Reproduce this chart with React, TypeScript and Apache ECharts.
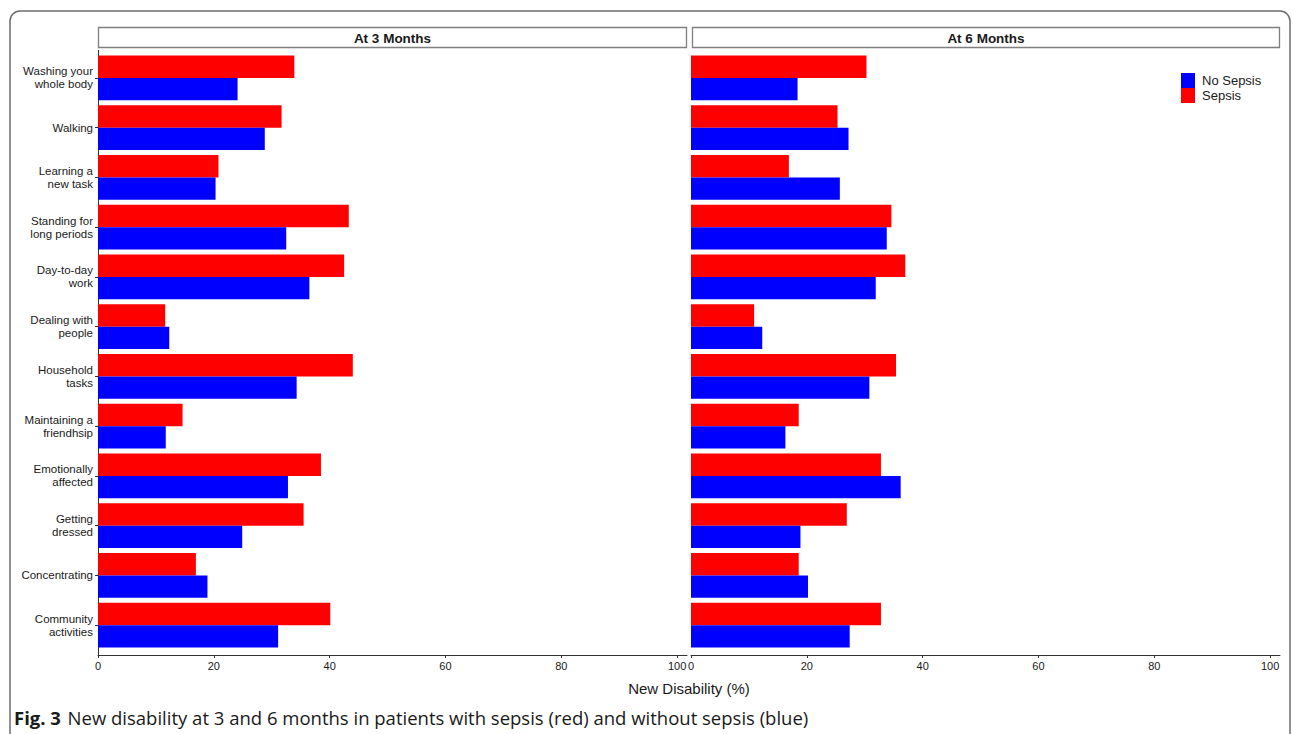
import React, { useEffect, useRef } from "react";
import * as echarts from "echarts";

const categories = [
  "Washing your\nwhole body",
  "Walking",
  "Learning a\nnew task",
  "Standing for\nlong periods",
  "Day-to-day\nwork",
  "Dealing with\npeople",
  "Household\ntasks",
  "Maintaining a\nfriendhsip",
  "Emotionally\naffected",
  "Getting\ndressed",
  "Concentrating",
  "Community\nactivities",
];

const sepsis3 = [33.9, 31.7, 20.8, 43.3, 42.5, 11.6, 44.0, 14.6, 38.5, 35.5, 16.9, 40.1];
const noSepsis3 = [24.1, 28.8, 20.3, 32.5, 36.5, 12.3, 34.3, 11.7, 32.8, 24.9, 18.9, 31.1];
const sepsis6 = [30.3, 25.3, 16.9, 34.6, 37.0, 10.9, 35.4, 18.6, 32.8, 26.9, 18.6, 32.8];
const noSepsis6 = [18.4, 27.2, 25.7, 33.8, 31.9, 12.3, 30.8, 16.3, 36.2, 18.9, 20.2, 27.4];

const xTicks = [0, 20, 40, 60, 80, 100];
const panelTitles = ["At 3 Months", "At 6 Months"];
const xAxisTitle = "New Disability (%)";
const captionBold = "Fig. 3";
const captionText = "New disability at 3 and 6 months in patients with sepsis (red) and without sepsis (blue)";

const RED = "#ff0000";
const BLUE = "#0000ff";
const FONT = "Liberation Sans, Arial, sans-serif";

export default function App() {
  const ref = useRef<HTMLDivElement>(null);

  useEffect(() => {
    if (!ref.current) return;
    const chart = echarts.init(ref.current, undefined, { renderer: "svg" });

    const grids = [
      { left: 98, right: 1293 - 687, top: 53, bottom: 84 },
      { left: 691, right: 1293 - 1280, top: 53, bottom: 84 },
    ];

    const xAxis = [0, 1].map((i) => ({
      type: "value",
      gridIndex: i,
      min: 0,
      max: 101.7,
      offset: 5,
      splitLine: { show: false },
      axisLine: { show: true, lineStyle: { color: "#333333", width: 1 } },
      axisTick: {
        show: true,
        length: 3,
        lineStyle: { color: "#333333" },
        customValues: xTicks,
      },
      axisLabel: {
        show: true,
        fontSize: 11,
        color: "#1a1a1a",
        margin: 5,
        fontFamily: FONT,
        customValues: xTicks,
        formatter: (v: number) => (xTicks.includes(v) ? String(v) : ""),
      },
    }));

    const yAxis = [0, 1].map((i) => ({
      type: "category",
      gridIndex: i,
      inverse: true,
      data: categories,
      axisLine: { show: false },
      axisTick: {
        show: i === 0,
        alignWithLabel: true,
        length: 3,
        lineStyle: { color: "#333333" },
      },
      axisLabel: {
        show: i === 0,
        fontSize: 11.5,
        lineHeight: 13,
        color: "#1a1a1a",
        margin: 5,
        align: "right",
        fontFamily: FONT,
      },
    }));

    const mkSeries = (name: string, data: number[], color: string, idx: number) => ({
      type: "bar",
      name,
      data,
      xAxisIndex: idx,
      yAxisIndex: idx,
      barGap: "0%",
      barCategoryGap: "10%",
      itemStyle: { color },
      emphasis: { disabled: true },
    });

    const strips = [0, 1].map((i) => {
      const x0 = i === 0 ? 98 : 692;
      const x1 = i === 0 ? 687 : 1280;
      return {
        type: "group",
        children: [
          {
            type: "rect",
            shape: { x: x0 + 0.5, y: 27.5, width: x1 - x0 - 1, height: 20 },
            style: { fill: "#ffffff", stroke: "#7f7f7f", lineWidth: 1.3 },
          },
          {
            type: "text",
            x: (x0 + x1) / 2,
            y: 38,
            style: {
              text: panelTitles[i],
              fontSize: 13.5,
              fontWeight: "bold",
              fontFamily: FONT,
              fill: "#1a1a1a",
              align: "center",
              verticalAlign: "middle",
            },
          },
        ],
      };
    });

    const option = {
      animation: false,
      backgroundColor: "#ffffff",
      textStyle: { fontFamily: FONT },
      grid: grids,
      xAxis,
      yAxis,
      legend: {
        data: ["No Sepsis", "Sepsis"],
        orient: "vertical",
        left: 1181,
        top: 73,
        itemWidth: 14,
        itemHeight: 15,
        itemGap: 0,
        icon: "rect",
        padding: 0,
        textStyle: { fontSize: 13, color: "#1a1a1a", fontFamily: FONT, padding: [0, 0, 0, 2] },
      },
      series: [
        mkSeries("Sepsis", sepsis3, RED, 0),
        mkSeries("No Sepsis", noSepsis3, BLUE, 0),
        mkSeries("Sepsis", sepsis6, RED, 1),
        mkSeries("No Sepsis", noSepsis6, BLUE, 1),
      ],
      graphic: [
        {
          type: "rect",
          shape: { x: 10, y: 11, width: 1280, height: 740, r: 10 },
          style: { fill: "none", stroke: "#6e6e6e", lineWidth: 1.5 },
          silent: true,
        },
        ...strips,
        {
          type: "line",
          shape: { x1: 98.5, y1: 50, x2: 98.5, y2: 655 },
          style: { stroke: "#333333", lineWidth: 1 },
        },
        {
          type: "text",
          x: 689,
          y: 688,
          style: {
            text: xAxisTitle,
            fontSize: 15,
            fontFamily: FONT,
            fill: "#1a1a1a",
            align: "center",
            verticalAlign: "middle",
          },
        },
        {
          type: "text",
          x: 14,
          y: 717,
          style: {
            text: "{b|" + captionBold + "}  {n|" + captionText + "}",
            verticalAlign: "middle",
            rich: {
              b: { fontSize: 18.5, fontWeight: "bold", fontFamily: "Open Sans", fill: "#1a1a1a" },
              n: { fontSize: 18.5, fontFamily: "Open Sans", fill: "#1a1a1a" },
            },
          },
        },
      ],
    };

    chart.setOption(option as any);
    return () => chart.dispose();
  }, []);

  return (
    <div
      ref={ref}
      style={{ position: "fixed", left: 0, top: 0, width: 1293, height: 734 }}
    />
  );
}
